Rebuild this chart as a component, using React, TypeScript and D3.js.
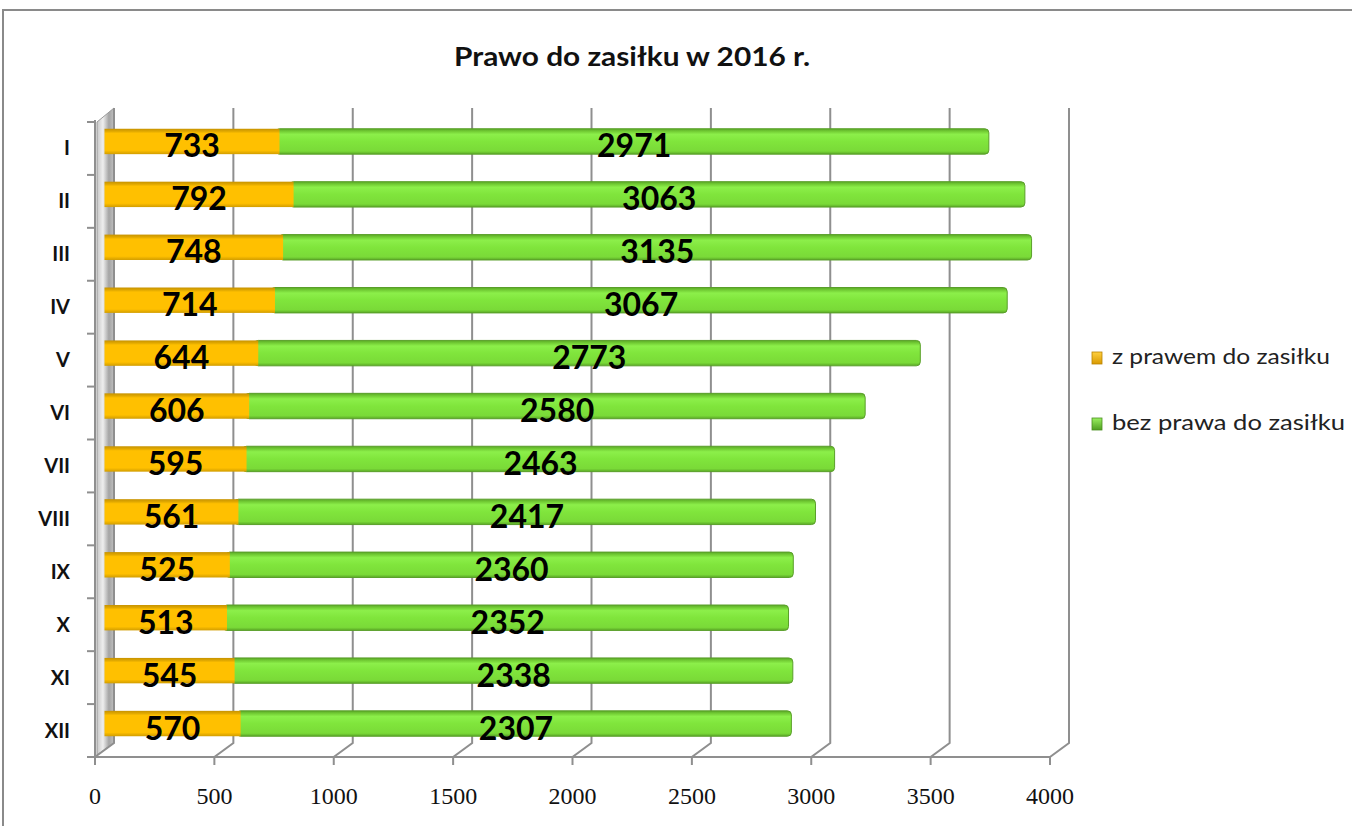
import * as d3 from "d3";

const months = ["I", "II", "III", "IV", "V", "VI", "VII", "VIII", "IX", "X", "XI", "XII"];
const withBenefit = [733, 792, 748, 714, 644, 606, 595, 561, 525, 513, 545, 570];
const withoutBenefit = [2971, 3063, 3135, 3067, 2773, 2580, 2463, 2417, 2360, 2352, 2338, 2307];
const xTicks = [0, 500, 1000, 1500, 2000, 2500, 3000, 3500, 4000];
const seriesNames = ["z prawem do zasiłku", "bez prawa do zasiłku"];

export default function App() {
  const width = 1352,
    height = 826;
  // 3d depth offset of the back wall
  const dx = 19,
    dy = -14;
  const top = 122,
    bottom = 757;

  const x = d3.scaleLinear().domain([0, 4000]).range([95, 1050]);
  const y = d3.scaleBand<string>().domain(months).range([top, bottom]).paddingInner(0.52).paddingOuter(0.26);
  const bw = y.bandwidth();
  const step = y.step();
  const gridColor = "#8f8f8f";

  return (
    <svg width={width} height={height} style={{ position: "absolute", left: 0, top: 0, background: "white" }}>
      <defs>
        <linearGradient id="wall" x1="0" x2="1" y1="0" y2="0">
          <stop offset="0%" stopColor="#c8c8c8" />
          <stop offset="35%" stopColor="#eeeeee" />
          <stop offset="70%" stopColor="#a4a4a4" />
          <stop offset="100%" stopColor="#c0c0c0" />
        </linearGradient>
        <linearGradient id="orange" x1="0" x2="0" y1="0" y2="1">
          <stop offset="0%" stopColor="#c79200" />
          <stop offset="10%" stopColor="#e0a800" />
          <stop offset="18%" stopColor="#ffc000" />
          <stop offset="85%" stopColor="#ffc000" />
          <stop offset="100%" stopColor="#d29d00" />
        </linearGradient>
        <linearGradient id="green" x1="0" x2="0" y1="0" y2="1">
          <stop offset="0%" stopColor="#5aa826" />
          <stop offset="10%" stopColor="#72cc34" />
          <stop offset="22%" stopColor="#8cef4a" />
          <stop offset="50%" stopColor="#80e53c" />
          <stop offset="88%" stopColor="#7ada38" />
          <stop offset="100%" stopColor="#5aa826" />
        </linearGradient>
        <linearGradient id="legO" x1="0" x2="0" y1="0" y2="1">
          <stop offset="0%" stopColor="#ffd040" />
          <stop offset="100%" stopColor="#d99a00" />
        </linearGradient>
        <linearGradient id="legG" x1="0" x2="0" y1="0" y2="1">
          <stop offset="0%" stopColor="#9af060" />
          <stop offset="100%" stopColor="#4f9e22" />
        </linearGradient>
      </defs>

      {/* outer frame */}
      <path d={`M3,${height} L3,10 L${width},10`} fill="none" stroke="#8a8a8a" strokeWidth={2} />

      <text
        x={632}
        y={66}
        textAnchor="middle"
        fontFamily="Lato, 'Open Sans', sans-serif"
        fontWeight="bold"
        fontSize={26}
        textLength={356}
        lengthAdjust="spacingAndGlyphs"
        fill="#111"
      >
        Prawo do zasiłku w 2016 r.
      </text>

      {/* left wall */}
      <polygon
        points={`${x(0) + 2},${top} ${x(0) + dx},${top + dy} ${x(0) + dx},${bottom + dy} ${x(0) + 2},${bottom - 2}`}
        fill="url(#wall)"
        stroke="#9a9a9a"
        strokeWidth={1}
      />

      {/* grid lines on back wall with diagonal to the front axis */}
      {xTicks.map((t) => (
        <path
          key={t}
          d={`M${x(t) + dx},${top + dy} L${x(t) + dx},${bottom + dy} L${x(t)},${bottom} L${x(t)},${bottom + 8}`}
          fill="none"
          stroke={gridColor}
          strokeWidth={2}
        />
      ))}

      {/* front axes */}
      <line x1={x(0) - 8} x2={x(4000)} y1={bottom} y2={bottom} stroke={gridColor} strokeWidth={2} />
      <line x1={x(0)} x2={x(0)} y1={top - 2} y2={bottom + 8} stroke={gridColor} strokeWidth={2} />
      {d3.range(months.length + 1).map((i) => (
        <line key={i} x1={x(0) - 8} x2={x(0)} y1={top + i * step} y2={top + i * step} stroke={gridColor} strokeWidth={2} />
      ))}

      {xTicks.map((t) => (
        <text key={t} x={x(t)} y={804} textAnchor="middle" fontFamily="'Liberation Serif', serif" fontSize={24} fill="#111">
          {t}
        </text>
      ))}

      {months.map((m) => (
        <text
          key={m}
          x={70}
          y={(y(m) as number) + bw / 2 + 7}
          textAnchor="end"
          fontFamily="Lato, sans-serif"
          fontWeight="bold"
          fontSize={20}
          fill="#111"
        >
          {m}
        </text>
      ))}

      {/* bars */}
      {months.map((m, i) => {
        const by = (y(m) as number) + dy / 2;
        const x0 = x(0) + dx / 2;
        const x1 = x(withBenefit[i]) + dx / 2;
        const x2 = x(withBenefit[i] + withoutBenefit[i]) + dx / 2;
        const cy = by + bw / 2;
        return (
          <g key={m}>
            <rect x={x1 - 4} y={by} width={x2 - x1 + 4} height={bw} rx={4} fill="url(#green)" stroke="#5a9f2a" strokeWidth={1} />
            <rect x={x0} y={by} width={x1 - x0} height={bw} fill="url(#orange)" />
            <text
              x={(x0 + x1) / 2}
              y={cy + 16}
              textAnchor="middle"
              fontFamily="Lato, sans-serif"
              fontWeight="bold"
              fontSize={32}
              fill="#000"
            >
              {withBenefit[i]}
            </text>
            <text
              x={(x1 + x2) / 2}
              y={cy + 16}
              textAnchor="middle"
              fontFamily="Lato, sans-serif"
              fontWeight="bold"
              fontSize={32}
              fill="#000"
            >
              {withoutBenefit[i]}
            </text>
          </g>
        );
      })}

      {/* legend */}
      {seriesNames.map((s, i) => (
        <g key={s} transform={`translate(1092,${352 + i * 66})`}>
          <rect x={0} y={0} width={10} height={12} fill={i === 0 ? "url(#legO)" : "url(#legG)"} stroke={i === 0 ? "#b98300" : "#4a8f20"} strokeWidth={0.8} />
          <text
            x={20}
            y={12}
            fontFamily="Lato, 'Open Sans', sans-serif"
            fontSize={21}
            fill="#222"
            textLength={i === 0 ? 218 : 233}
            lengthAdjust="spacingAndGlyphs"
          >
            {s}
          </text>
        </g>
      ))}
    </svg>
  );
}
